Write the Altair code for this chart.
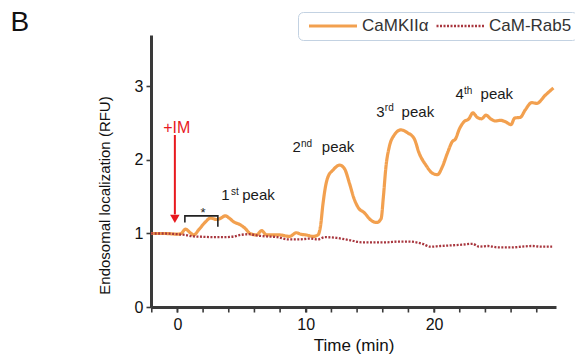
import altair as alt
import pandas as pd

# ---------------- data ----------------
series_names = ["CaMKIIα", "CaM-Rab5"]
series_colors = ["#f2a04f", "#a8363e"]

orange_t = [-2.05, -1.0, 0.0, 0.3, 0.62, 1.0, 1.27, 1.7, 2.2, 2.56, 3.07, 3.4, 3.72, 4.1,
            4.37, 4.88, 5.27, 5.66, 6.17, 6.56, 6.94, 7.5, 7.98, 8.75, 9.27, 9.6, 10.05,
            10.56, 10.95, 11.15, 11.34, 11.55, 11.73, 12.11, 12.64, 13.02, 13.41, 13.75,
            14.06, 14.57, 15.09, 15.53, 15.87, 16.05, 16.25, 16.51, 16.9, 17.42, 17.93,
            18.45, 18.84, 19.36, 19.87, 20.26, 20.65, 21.03, 21.42, 21.68, 21.94, 22.33,
            22.71, 23.02, 23.36, 23.7, 24.05, 24.4, 24.78, 25.17, 25.56, 25.99, 26.28,
            26.72, 27.1, 27.62, 28.0, 28.66, 29.3]
orange_v = [1.0, 1.0, 0.99, 1.0, 1.06, 1.01, 0.98, 1.06, 1.16, 1.21, 1.19, 1.21, 1.24, 1.2,
            1.16, 1.12, 1.07, 1.0, 0.98, 1.04, 0.98, 0.98, 0.98, 0.96, 1.01, 0.99, 0.98,
            0.96, 0.98, 1.1, 1.4, 1.65, 1.77, 1.86, 1.93, 1.88, 1.68, 1.48,
            1.36, 1.28, 1.18, 1.15, 1.2, 1.5, 1.91, 2.18, 2.34, 2.41, 2.37,
            2.29, 2.09, 1.93, 1.82, 1.8, 1.91, 2.09, 2.25, 2.29, 2.41, 2.52,
            2.56, 2.64, 2.58, 2.56, 2.61, 2.56, 2.53, 2.54, 2.52, 2.48, 2.57,
            2.58, 2.68, 2.78, 2.77, 2.88, 2.98]

red_t = [-2.05, -1.0, 0.0, 0.6, 1.27, 2.0, 2.8, 3.6, 4.4, 4.9, 5.6, 6.3, 7.0, 7.8, 8.6,
         9.5, 10.3, 10.95, 11.5, 12.4, 13.4, 14.4, 15.3, 16.25, 17.2, 18.1, 18.6, 19.1,
         19.7, 20.5, 21.5, 22.3, 23.0, 23.5, 24.2, 25.0, 26.0, 26.8, 27.6, 28.4, 29.2]
red_v = [1.0, 1.0, 0.99, 0.98, 0.96, 0.955, 0.95, 0.95, 0.96, 0.98, 0.99, 0.97, 0.96, 0.95,
         0.92, 0.92, 0.93, 0.92, 0.95, 0.94, 0.91, 0.88, 0.88, 0.88, 0.89, 0.89, 0.88, 0.86,
         0.82, 0.83, 0.84, 0.85, 0.86, 0.82, 0.83, 0.81, 0.81, 0.82, 0.83, 0.82, 0.82]

# peak labels: number, superscript, word
peak_num = ["1", "2", "3", "4"]
peak_sup = ["st", "nd", "rd", "th"]
peak_num_t = [3.42, 8.96, 15.5, 21.67]
peak_sup_t = [4.17, 9.63, 16.16, 22.33]
peak_word_t = [5.05, 11.25, 17.47, 23.62]
peak_y = [1.46, 2.11, 2.59, 2.83]
sup_raise = 0.07

# panel letter (placed in data space, left of the axis)
panel_letter = "B"
panel_t = -13.0
panel_v = 3.75

# stimulus arrow & bracket
arrow_t = -0.2
arrow_top = 2.34
arrow_bottom = 1.26
arrow_tip = 1.2
im_label_t = -0.05
im_label_y = 2.37
bracket_t = [0.58, 0.58, 3.15, 3.15]
bracket_v = [1.15, 1.24, 1.24, 1.09]
star_t = 2.0
star_y = 1.225

x_minor_ticks = list(range(-2, 30, 2))
x_label_ticks = [0, 10, 20]
y_ticks = [0, 1, 2, 3]
x_domain = [-2.06, 29.5]
y_domain = [0, 3.7]

FONT = "Liberation Sans"

# ---------------- tables ----------------
lines_df = pd.concat([
    pd.DataFrame({"t": orange_t, "v": orange_v, "series": series_names[0], "order": range(len(orange_t))}),
    pd.DataFrame({"t": red_t, "v": red_v, "series": series_names[1], "order": range(len(red_t))}),
])

num_df = pd.DataFrame({"t": peak_num_t, "v": peak_y, "txt": peak_num})
sup_df = pd.DataFrame({"t": peak_sup_t, "v": [y + sup_raise for y in peak_y], "txt": peak_sup})
word_df = pd.DataFrame({"t": peak_word_t, "v": peak_y, "txt": ["peak"] * 4})
arrow_df = pd.DataFrame({"t": [arrow_t], "v": [arrow_top], "v2": [arrow_bottom]})
tip_df = pd.DataFrame({"t": [arrow_t], "v": [arrow_tip]})
im_df = pd.DataFrame({"t": [im_label_t], "v": [im_label_y], "txt": ["+IM"]})
bracket_df = pd.DataFrame({"t": bracket_t, "v": bracket_v, "order": range(4)})
star_df = pd.DataFrame({"t": [star_t], "v": [star_y], "txt": ["*"]})
minor_df = pd.DataFrame({"t": x_minor_ticks, "v": [0] * len(x_minor_ticks)})
letter_df = pd.DataFrame({"t": [panel_t], "v": [panel_v], "txt": [panel_letter]})

xscale = alt.Scale(domain=x_domain, nice=False, zero=False)
yscale = alt.Scale(domain=y_domain, nice=False)

legend = alt.Legend(
    title=None, orient="none", legendX=147, legendY=-23, direction="horizontal",
    strokeColor="#c3d2e2", fillColor="white", cornerRadius=5, padding=5,
    symbolType="stroke", symbolSize=2300, symbolStrokeWidth=3, symbolOffset=4,
    clipHeight=18,
    labelFont=FONT, labelFontSize=17, labelColor="#333333", labelOffset=3,
    columnPadding=2, labelLimit=200,
)

x_enc = alt.X("t:Q", scale=xscale, axis=alt.Axis(
    title="Time (min)", values=x_label_ticks, format="d",
    labelFontSize=16, labelPadding=4, titleFontSize=17, titlePadding=5))
y_enc = alt.Y("v:Q", scale=yscale, axis=alt.Axis(
    title="Endosomal localization (RFU)", values=y_ticks, format="d",
    labelFontSize=16, labelPadding=3, titleFontSize=15,
    titleX=-47, titleY=160, titleBaseline="middle", titleAlign="center"))

lines = alt.Chart(lines_df).mark_line(interpolate="monotone").encode(
    x=x_enc, y=y_enc,
    order="order:Q",
    color=alt.Color("series:N", scale=alt.Scale(domain=series_names, range=series_colors), legend=legend),
    strokeDash=alt.StrokeDash("series:N", scale=alt.Scale(domain=series_names, range=[[1, 0], [2, 1.5]]), legend=legend),
    strokeWidth=alt.StrokeWidth("series:N", scale=alt.Scale(domain=series_names, range=[3.2, 2.3]), legend=None),
)

xs = alt.X("t:Q", scale=xscale)
ys = alt.Y("v:Q", scale=yscale)

minor = alt.Chart(minor_df).mark_tick(orient="vertical", size=5, thickness=1.6, color="#3a3a3a", yOffset=3, opacity=1).encode(x=xs, y=ys)
arrow = alt.Chart(arrow_df).mark_rule(color="#e8191e", strokeWidth=2).encode(x=xs, y=ys, y2="v2:Q")
tip = alt.Chart(tip_df).mark_point(shape="triangle-down", filled=True, color="#e8191e", size=90, opacity=1).encode(x=xs, y=ys)
im_text = alt.Chart(im_df).mark_text(color="#e8191e", font=FONT, fontSize=16, align="center", baseline="alphabetic").encode(x=xs, y=ys, text="txt:N")

bracket = alt.Chart(bracket_df).mark_line(color="#222222", strokeWidth=1.6).encode(x=xs, y=ys, order="order:Q")
star = alt.Chart(star_df).mark_text(color="#222222", font=FONT, fontSize=13, align="center", baseline="alphabetic").encode(x=xs, y=ys, text="txt:N")

num_text = alt.Chart(num_df).mark_text(color="#1a1a1a", font=FONT, fontSize=15, align="left", baseline="alphabetic").encode(x=xs, y=ys, text="txt:N")
sup_text = alt.Chart(sup_df).mark_text(color="#1a1a1a", font=FONT, fontSize=10, align="left", baseline="alphabetic").encode(x=xs, y=ys, text="txt:N")
word_text = alt.Chart(word_df).mark_text(color="#1a1a1a", font=FONT, fontSize=15, align="left", baseline="alphabetic").encode(x=xs, y=ys, text="txt:N")
letter = alt.Chart(letter_df).mark_text(color="#111111", font=FONT, fontSize=28, align="left", baseline="alphabetic").encode(x=xs, y=ys, text="txt:N")

chart = alt.layer(
    lines, minor, bracket, star, arrow, tip, im_text, num_text, sup_text, word_text, letter
).properties(
    width=405, height=272,
    background="white",
    autosize=alt.AutoSizeParams(type="none"),
    padding={"left": 143, "top": 27, "right": 19, "bottom": 50},
).configure_view(
    stroke=None
).configure_axis(
    grid=False, domainColor="#3a3a3a", domainWidth=3, tickColor="#3a3a3a",
    tickWidth=1.6, tickSize=5, labelFont=FONT, titleFont=FONT,
    labelColor="#111111", titleColor="#111111", titleFontWeight="normal",
)

chart.save("out.html", embed_options={"renderer": "svg", "actions": False})
